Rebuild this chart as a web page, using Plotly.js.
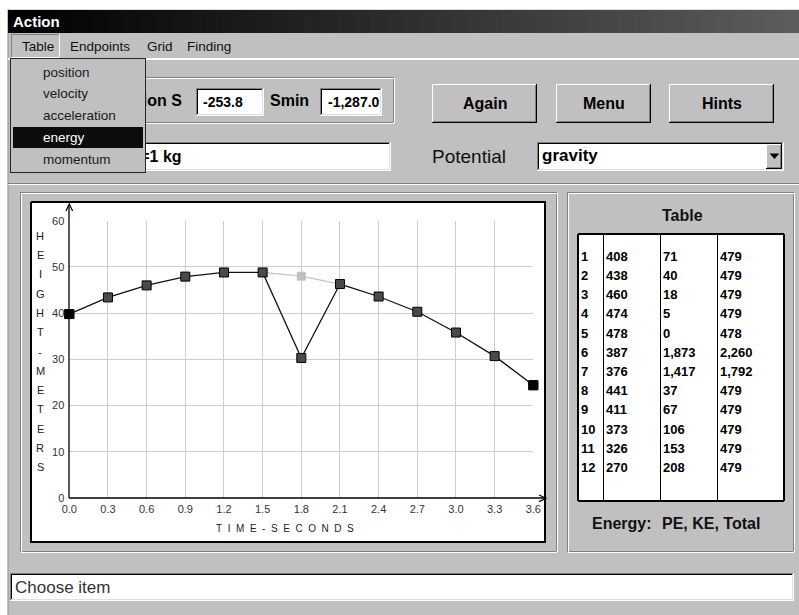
<!DOCTYPE html>
<html><head><meta charset="utf-8">
<script src="https://cdn.plot.ly/plotly-3.0.1.min.js"></script>
<style>html,body{margin:0;padding:0;background:#fff;}#chart{width:799px;height:615px;}</style>
</head><body><div id="chart"></div>
<script>
// ---------- data ----------
const timeSeconds = [0.0, 0.3, 0.6, 0.9, 1.2, 1.5, 1.8, 2.1, 2.4, 2.7, 3.0, 3.3, 3.6];
const heightMeters = [39.8, 43.4, 46.0, 47.9, 48.8, 48.8, 30.3, 46.3, 43.6, 40.3, 35.8, 30.7, 24.4];
const ghostTime = [1.5, 1.8, 2.1];
const ghostHeight = [48.8, 48.0, 46.3];
const yTickVals = [0, 10, 20, 30, 40, 50, 60];
const tableRow = ['1','2','3','4','5','6','7','8','9','10','11','12'];
const tablePE = ['408','438','460','474','478','387','376','441','411','373','326','270'];
const tableKE = ['71','40','18','5','0','1,873','1,417','37','67','106','153','208'];
const tableTotal = ['479','479','479','479','478','2,260','1,792','479','479','479','479','479'];
const menuBarItems = ['Table', 'Endpoints', 'Grid', 'Finding'];
const tableMenuItems = ['position', 'velocity', 'acceleration', 'energy', 'momentum'];
const buttonLabels = ['Again', 'Menu', 'Hints'];
const yAxisTitle = 'HEIGHT-METERS';
const xAxisTitle = 'TIME-SECONDS';

// ---------- helpers ----------
const W = 799, H = 615;
const px = v => v / W;
const py = v => 1 - v / H;
const FONT = 'Liberation Sans, Arial, Helvetica, sans-serif';
const shapes = [];
const ann = [];
function rect(x0, y0, x1, y1, fill, layer) {
  shapes.push({type:'rect', xref:'paper', yref:'paper', x0:px(x0), x1:px(x1), y0:py(y1), y1:py(y0),
    fillcolor: fill, line:{width:0}, layer: layer || 'below'});
}
function line(x0, y0, x1, y1, color, lw, layer) {
  lw = lw || 1;
  const o = (lw % 2 === 1) ? 0.5 : 0;
  shapes.push({type:'line', xref:'paper', yref:'paper',
    x0:px(x0 + (x0 === x1 ? o : 0)), x1:px(x1 + (x0 === x1 ? o : 0)),
    y0:py(y0 + (y0 === y1 ? o : 0)), y1:py(y1 + (y0 === y1 ? o : 0)),
    line:{color:color, width:lw}, layer: layer || 'below'});
}
function path(pts, fill, color, layer) {
  const d = pts.map((p, i) => (i ? 'L' : 'M') + px(p[0]) + ',' + py(p[1])).join(' ') + (fill ? ' Z' : '');
  shapes.push({type:'path', xref:'paper', yref:'paper', path:d, fillcolor: fill || 'rgba(0,0,0,0)',
    line:{color:color, width:1.2}, layer: layer || 'above'});
}
function text(t, x, y, o) {
  o = o || {};
  ann.push({text:t, xref:'paper', yref:'paper', x:px(x), y:py(y), xanchor:o.anchor || 'left',
    yanchor:'middle', showarrow:false, align:'left',
    font:{family:FONT, size:o.size || 13, color:o.color || '#000', weight:o.bold ? 'bold' : 'normal'}});
}
function box(x0, y0, x1, y1, o) {
  ann.push(Object.assign({text:' ', xref:'paper', yref:'paper', x:px(x0), y:py(y0), xanchor:'left', yanchor:'top',
    showarrow:false, borderpad:0}, o));
}
function sunken(x0, y0, x1, y1) {
  rect(x0, y0, x1, y1, '#ffffff');
  line(x0, y0, x1, y0, '#808080'); line(x0, y0, x0, y1, '#808080');
  line(x0 + 1, y0 + 1, x1 - 1, y0 + 1, '#000000'); line(x0 + 1, y0 + 1, x0 + 1, y1 - 1, '#000000');
  line(x0, y1 - 1, x1, y1 - 1, '#ffffff'); line(x1 - 1, y0, x1 - 1, y1, '#ffffff');
  line(x0 + 1, y1 - 2, x1 - 1, y1 - 2, '#dfdfdf'); line(x1 - 2, y0 + 1, x1 - 2, y1 - 1, '#dfdfdf');
}
function raised(x0, y0, x1, y1) {
  rect(x0, y0, x1, y1, '#c0c0c0');
  line(x0, y0, x1, y0, '#ffffff'); line(x0, y0, x0, y1, '#ffffff');
  line(x0, y1 - 1, x1, y1 - 1, '#000000'); line(x1 - 1, y0, x1 - 1, y1, '#000000');
  line(x0 + 1, y1 - 2, x1 - 1, y1 - 2, '#808080'); line(x1 - 2, y0 + 1, x1 - 2, y1 - 1, '#808080');
}
function etched(x0, y0, x1, y1) {
  line(x0, y0, x1 - 1, y0, '#808080'); line(x0, y0, x0, y1 - 1, '#808080');
  line(x0, y1 - 1, x1 - 1, y1 - 1, '#808080'); line(x1 - 1, y0, x1 - 1, y1 - 1, '#808080');
  line(x0 + 1, y0 + 1, x1, y0 + 1, '#ffffff'); line(x0 + 1, y0 + 1, x0 + 1, y1, '#ffffff');
  line(x0 + 1, y1, x1, y1, '#ffffff'); line(x1, y0 + 1, x1, y1, '#ffffff');
}

// ---------- window chrome ----------
rect(7, 9, 799, 615, '#c0c0c0');
line(7, 9, 799, 9, '#dcdcdc');
line(8, 9, 8, 615, '#a8a8a8');
const strips = 48;
for (let i = 0; i < strips; i++) {
  const c = Math.round(92 * i / (strips - 1));
  const x0 = 8 + i * (791 / strips);
  rect(x0, 10, x0 + 791 / strips + 1, 33, 'rgb(' + c + ',' + c + ',' + c + ')');
}
text('Action', 11, 21.5, {size:15, bold:true, color:'#ffffff'});

// menu bar
line(8, 58, 799, 58, '#9a9a9a');
line(8, 59, 799, 59, '#ffffff', 2);
line(11, 34, 59, 34, '#808080'); line(11, 34, 11, 57, '#808080');
line(11, 57, 59, 57, '#ffffff'); line(59, 34, 59, 57, '#ffffff');
const menuX = [20, 68, 145, 185];
menuBarItems.forEach((m, i) => text(m, menuX[i], 46.5, {size:13.5, color:'#111'}));

// top group box with S / Smin
etched(18, 77, 394, 123);
text('Action S', 183.5, 100.5, {size:16, bold:true, anchor:'right'});
sunken(196, 88, 264, 116);
text('-253.8', 201, 101.5, {size:14, bold:true});
text('Smin', 268, 100.5, {size:16, bold:true});
sunken(320, 88, 382, 116);
text('-1,287.0', 326, 101.5, {size:14, bold:true});

// mass box
sunken(18, 142, 391, 171);
text('m=1 kg', 183.5, 156.5, {size:16, bold:true, anchor:'right'});

// buttons
const btn = [[432, 537], [556, 651], [669, 774]];
btn.forEach((b, i) => {
  raised(b[0], 84, b[1], 123);
  text(buttonLabels[i], (b[0] + b[1]) / 2, 104, {size:16, bold:true, anchor:'center'});
});

// potential dropdown
text('Potential', 430, 156, {size:19, color:'#111'});
sunken(537, 142, 784, 171);
text('gravity', 540, 155.5, {size:17, bold:true});
raised(766, 144, 782, 169);
path([[771, 154], [778, 154], [774.5, 158]], '#000000', '#000000');

// separator
line(8, 183, 799, 183, '#808080');
line(8, 184, 799, 184, '#ffffff');

// left panel + plot box
etched(20, 192, 557, 552);
rect(31, 202, 546, 543, '#ffffff');
line(31, 202, 546, 202, '#000', 2); line(31, 542, 546, 542, '#000', 2);
line(31, 202, 31, 543, '#000', 2); line(545, 202, 545, 543, '#000', 2);

// table panel
etched(567, 192, 794, 552);
text('Table', 682, 215, {size:16, bold:true, anchor:'center', color:'#111'});
rect(578, 234, 784, 501, '#ffffff');
line(578, 234, 784, 234, '#000', 2); line(578, 501, 784, 501, '#000', 2);
line(578, 234, 578, 501, '#000', 2); line(784, 234, 784, 501, '#000', 2);
[603, 660, 717].forEach(x => line(x, 234, x, 501, '#000', 1));
text('Energy:', 590, 523, {size:16, bold:true, color:'#111'});
text('PE, KE, Total', 762, 523, {size:16, bold:true, anchor:'right', color:'#111'});

// status box
sunken(10, 573, 794, 601);
text('Choose item', 13, 587, {size:17, color:'#333'});

// axes lines with arrows (drawn above the grid)
line(69, 205, 69, 498, '#000', 1.3, 'above');
line(69, 498, 545, 498, '#000', 1.3, 'above');
path([[66, 211], [69.3, 204], [72.6, 211]], null, '#000');
path([[539, 495], [546, 498.3], [539, 501.6]], null, '#000');

// axis titles
yAxisTitle.split('').forEach((ch, i) => text(ch, 40, 235.7 + 19.3 * i, {size:11, anchor:'center', color:'#222'}));
text(xAxisTitle.split('').join('\u00a0 '), 285, 528, {size:10, anchor:'center', color:'#222'});

// ---------- dropdown menu overlay (annotations drawn last stay on top) ----------
box(10, 58, 146, 173, {width:134, height:113, bgcolor:'#c0c0c0', bordercolor:'#262626', borderwidth:1});
box(13, 127, 143, 148, {width:130, height:21, bgcolor:'#0c0c0c', borderwidth:0});
const menuY = [72, 93, 115, 137, 159];
tableMenuItems.forEach((m, i) => text(m, 41, menuY[i], {size:13.5, color: m === 'energy' ? '#ffffff' : '#1a1a1a'}));

// ---------- traces ----------
const ghost = {x: ghostTime, y: ghostHeight, type:'scatter', mode:'lines+markers', cliponaxis:false,
  line:{color:'#c4c4c4', width:1.3}, marker:{symbol:'square', size:8, color:'#bdbdbd', line:{color:'#c4c4c4', width:1}},
  hoverinfo:'skip'};
const path1 = {x: timeSeconds, y: heightMeters, type:'scatter', mode:'lines+markers', cliponaxis:false,
  line:{color:'#111111', width:1.3}, marker:{symbol:'square', size:9, color:'#4a4a4a', line:{color:'#000', width:1}}};
const ends = {x:[timeSeconds[0], timeSeconds[timeSeconds.length - 1]],
  y:[heightMeters[0], heightMeters[heightMeters.length - 1]], type:'scatter', mode:'markers', cliponaxis:false,
  marker:{symbol:'square', size:9, color:'#000', line:{color:'#000', width:1}}};
const table = {type:'table', domain:{x:[px(573), px(779)], y:[py(501), py(233)]},
  columnwidth:[25, 57, 57, 67],
  header:{values:['', '', '', ''], height:10, fill:{color:'rgba(0,0,0,0)'}, line:{width:0, color:'rgba(0,0,0,0)'}},
  cells:{values:[tableRow, tablePE, tableKE, tableTotal], height:19.2, align:'left',
    fill:{color:'rgba(0,0,0,0)'}, line:{width:0, color:'rgba(0,0,0,0)'},
    font:{family:FONT, size:13, color:'#000', weight:'bold'}}};

const axisFont = {family:FONT, size:11, color:'#333'};
const layout = {
  width: W, height: H, autosize:false,
  margin:{l:0, r:0, t:0, b:0, pad:0},
  paper_bgcolor:'#ffffff', plot_bgcolor:'rgba(0,0,0,0)',
  showlegend:false,
  xaxis:{domain:[px(69.3), px(533.3)], range:[0, 3.6], tickvals: timeSeconds, tickformat:'.1f',
    showgrid:true, gridcolor:'#cdcdcd', gridwidth:1, zeroline:false, showline:false, ticks:'',
    ticklabelstandoff:3, tickfont:axisFont, automargin:false, fixedrange:true, layer:'below traces'},
  yaxis:{domain:[py(498), py(220.7)], range:[0, 60], tickvals: yTickVals,
    showgrid:true, gridcolor:'#cdcdcd', gridwidth:1, zeroline:false, showline:false, ticks:'',
    ticklabelstandoff:4, tickfont:axisFont, automargin:false, fixedrange:true, layer:'below traces'},
  shapes: shapes,
  annotations: ann
};
Plotly.newPlot('chart', [ghost, path1, ends, table], layout, {staticPlot:true, displayModeBar:false});
</script></body></html>
